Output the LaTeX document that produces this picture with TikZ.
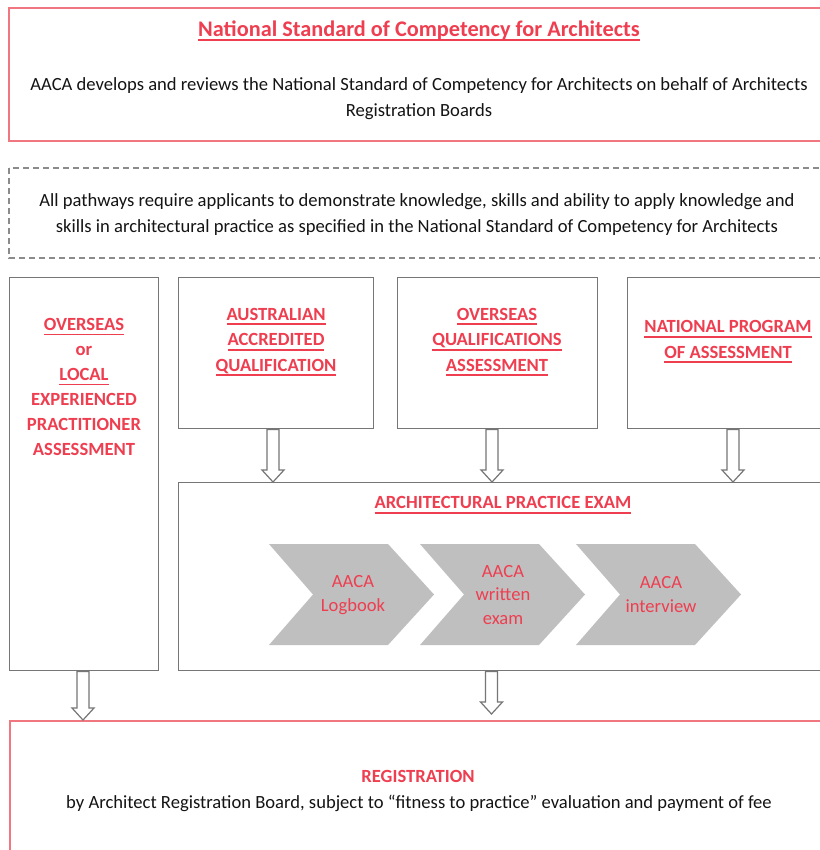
\documentclass[tikz,border=0pt]{standalone}
\usepackage{fontspec}
\setmainfont{Carlito}
\usetikzlibrary{calc}
\definecolor{pathred}{RGB}{238,62,80}
\definecolor{pinkline}{RGB}{240,118,128}
\definecolor{boxgray}{RGB}{118,118,118}
\definecolor{chevgray}{RGB}{191,191,191}
\definecolor{bodyblack}{RGB}{20,20,20}
% underline drawn as a rule below the baseline, in the current colour
\newcommand{\redul}[1]{\leavevmode\setbox0\hbox{#1}\rlap{\rule[-4.8pt]{\wd0}{1.8pt}}\box0}
% hollow block arrow pointing down from #1 to #2
\newcommand{\blockarrow}[2]{%
  \draw[arrowline] let \p1=(#1), \p2=(#2) in
    ({\x1-6pt},\y1) -- ({\x1-6pt},{\y2+12pt}) -- ({\x1-11pt},{\y2+12pt}) --
    (\x1,\y2) -- ({\x1+11pt},{\y2+12pt}) -- ({\x1+6pt},{\y2+12pt}) --
    ({\x1+6pt},\y1) -- cycle;}
\tikzset{
  x=1pt, y=-1pt,
  redbox/.style={draw=pinkline, line width=1.5pt, fill=white},
  graybox/.style={draw=boxgray, line width=1.4pt},
  dashbox/.style={draw=boxgray!85, line width=1.2pt, dash pattern=on 6pt off 4pt},
  arrowline/.style={draw=boxgray, line width=1.2pt, fill=white, line join=miter},
  chevron/.style={fill=chevgray, draw=none},
  bodytxt/.style={text=bodyblack, align=center, inner sep=0pt, font=\fontsize{18.6}{26}\selectfont},
  headtxt/.style={text=pathred, align=center, inner sep=0pt, font=\fontsize{18.6}{25.5}\selectfont\bfseries},
  chevtxt/.style={text=pathred, align=center, inner sep=0pt, font=\fontsize{18.6}{23.5}\selectfont},
}
\begin{document}
\begin{tikzpicture}
\useasboundingbox (0,0) rectangle (819,850);
\fill[white] (0,0) rectangle (819,850);

% frames
\draw[redbox] (9,8) rectangle (829,141);
\draw[dashbox] (9,168) rectangle (829,258);
\node[graybox, anchor=north west, minimum width=149, minimum height=393, inner sep=0] (left) at (9,277) {};
\node[graybox, anchor=north west, minimum width=195, minimum height=151, inner sep=0] (aaq) at (178,277) {};
\node[graybox, anchor=north west, minimum width=200, minimum height=151, inner sep=0] (oqa) at (397,277) {};
\node[graybox, anchor=north west, minimum width=202, minimum height=151, inner sep=0] (npa) at (627,277) {};
\node[graybox, anchor=north west, minimum width=651, minimum height=188, inner sep=0] (exam) at (178,482) {};
\node[redbox, anchor=north west, minimum width=820, minimum height=150, inner sep=0] (reg) at (9,720) {};

% top texts
\node[headtxt, font=\fontsize{22.3}{26}\selectfont\bfseries] (title) at (419,31) {\redul{National Standard of Competency for Architects}};
\node[bodytxt] (intro) at (419,99) {AACA develops and reviews the National Standard of Competency for Architects on behalf of Architects\\Registration Boards};
\node[bodytxt] (pathways) at (417,215) {All pathways require applicants to demonstrate knowledge, skills and ability to apply knowledge and\\skills in architectural practice as specified in the National Standard of Competency for Architects};

% pathway headings
\node[headtxt, font=\fontsize{18.6}{25}\selectfont\bfseries] (lefttxt) at (84,387) {\redul{OVERSEAS}\\or\\\redul{LOCAL}\\EXPERIENCED\\PRACTITIONER\\ASSESSMENT};
\node[headtxt] (aaqtxt) at (276,342) {\redul{AUSTRALIAN}\\\redul{ACCREDITED}\\\redul{QUALIFICATION}};
\node[headtxt] (oqatxt) at (497,342) {\redul{OVERSEAS}\\\redul{QUALIFICATIONS}\\\redul{ASSESSMENT}};
\node[headtxt] (npatxt) at (728,342) {\redul{NATIONAL PROGRAM}\\\redul{OF ASSESSMENT}};
\node[headtxt] (examtxt) at (503,505) {\redul{ARCHITECTURAL PRACTICE EXAM}};

% exam stages
\foreach \L in {269, 420, 576}{
  \fill[chevron] (\L,544) -- ({\L+119},544) -- ({\L+165},594.5) -- ({\L+119},645) -- (\L,645) -- ({\L+44},594.5) -- cycle;
}
\node[chevtxt, font=\fontsize{18.6}{24}\selectfont] (logbook) at (353,595) {AACA\\Logbook};
\node[chevtxt] (written) at (503,595) {AACA\\written\\exam};
\node[chevtxt, font=\fontsize{18.6}{24}\selectfont] (interview) at (661,595) {AACA\\interview};

% registration
\node[headtxt] (regtitle) at (418,776) {REGISTRATION};
\node[bodytxt] (regtxt) at (419,803) {by Architect Registration Board, subject to “fitness to practice” evaluation and payment of fee};

% arrows
\coordinate (xa) at (273,0);
\coordinate (xb) at (492,0);
\coordinate (xc) at (733,0);
\coordinate (xd) at (83,0);
\coordinate (xe) at (491.5,0);
\coordinate (stop) at (0,714);
\blockarrow{xa |- aaq.south}{xa |- exam.north}
\blockarrow{xb |- oqa.south}{xb |- exam.north}
\blockarrow{xc |- npa.south}{xc |- exam.north}
\blockarrow{xd |- left.south}{xd |- reg.north}
\blockarrow{xe |- exam.south}{xe |- stop}
\end{tikzpicture}
\end{document}
